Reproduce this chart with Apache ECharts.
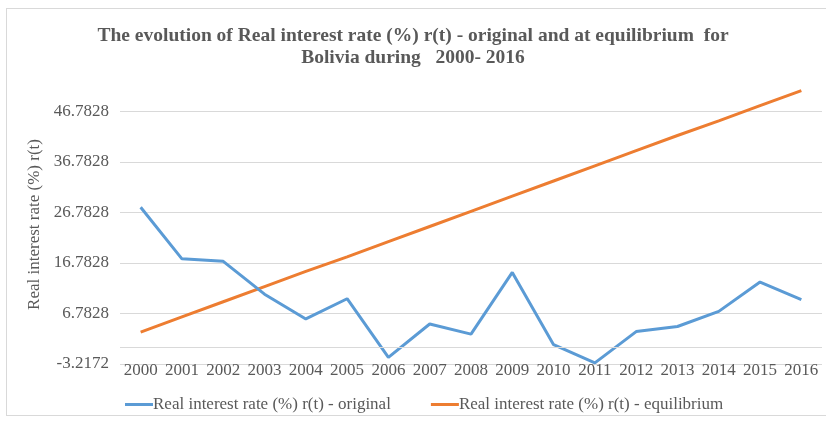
<!DOCTYPE html>
<html>
<head>
<meta charset="utf-8">
<script src="https://cdn.jsdelivr.net/npm/echarts@6/dist/echarts.min.js"></script>
<style>
  html, body { margin: 0; padding: 0; background: #fff; }
  #frame { position: absolute; left: 6px; top: 8px; width: 830px; height: 408px; border: 1px solid #d9d9d9; box-sizing: border-box; }
  #chart { position: absolute; left: 0; top: 0; width: 826px; height: 421px; }
</style>
</head>
<body>
<div id="frame"></div>
<div id="chart"></div>
<script>
const years = ['2000', '2001', '2002', '2003', '2004', '2005', '2006', '2007', '2008',
  '2009', '2010', '2011', '2012', '2013', '2014', '2015', '2016'];
const original = [27.8, 17.6, 17.1, 10.6, 5.7, 9.7, -1.9, 4.7, 2.7,
  14.9, 0.6, -3.0, 3.2, 4.2, 7.2, 13.0, 9.5];
const equilibrium = [3.1, 6.1, 9.1, 12.1, 15.1, 18.0, 21.0, 24.0, 27.0,
  30.0, 33.0, 36.0, 39.0, 42.0, 44.9, 47.9, 50.9];
const yMin = -3.2172;
const yMax = 52;
const yStep = 10;

const serif = '"Liberation Serif", "DejaVu Serif", serif';
const grey = '#595959';
const gridGrey = '#d9d9d9';

const chart = echarts.init(document.getElementById('chart'));
chart.setOption({
  animation: false,
  textStyle: { fontFamily: serif },
  title: {
    text: 'The evolution of Real interest rate (%) r(t) - original and at equilibrium  for\nBolivia during   2000- 2016',
    left: 'center',
    top: 20,
    textStyle: { fontFamily: serif, fontSize: 19.5, fontWeight: 'bold', color: grey, lineHeight: 22 }
  },
  grid: { left: 120, right: 4, top: 85, bottom: 57 },
  legend: {
    left: 120,
    top: 391,
    itemWidth: 28,
    itemHeight: 3,
    itemGap: 40,
    icon: 'rect',
    textStyle: { fontFamily: serif, fontSize: 17, color: grey, padding: [0, 0, 0, -5] },
    data: ['Real interest rate (%) r(t) - original', 'Real interest rate (%) r(t) - equilibrium']
  },
  xAxis: {
    type: 'category',
    data: years,
    // the category axis crosses the value axis at 0, labels stay low
    axisLine: { show: false },
    axisTick: { show: false },
    axisLabel: { interval: 0, margin: -2, fontSize: 17, color: grey, fontFamily: serif }
  },
  yAxis: {
    type: 'value',
    min: yMin,
    max: yMax,
    interval: yStep,
    name: 'Real interest rate (%) r(t)',
    nameLocation: 'middle',
    nameGap: 70,
    nameTextStyle: { fontFamily: serif, fontSize: 17, color: grey },
    axisLine: { show: false },
    axisTick: { show: false },
    axisLabel: {
      showMaxLabel: false,
      fontSize: 17,
      color: grey,
      fontFamily: serif,
      margin: 11,
      formatter: v => (yMin + Math.round((v - yMin) / yStep) * yStep).toFixed(4)
    },
    splitLine: { showMinLine: true, showMaxLine: false, lineStyle: { color: gridGrey, width: 1 } }
  },
  series: [
    {
      name: 'Real interest rate (%) r(t) - original',
      type: 'line',
      data: original,
      symbol: 'none',
      lineStyle: { color: '#5b9bd5', width: 3 },
      itemStyle: { color: '#5b9bd5' },
      markLine: {
        silent: true,
        symbol: ['none', 'none'],
        label: { show: false },
        emphasis: { disabled: true },
        lineStyle: { color: gridGrey, type: 'solid', width: 1 },
        data: [{ yAxis: 0 }, { yAxis: yMin }]
      },
      z: 3
    },
    {
      name: 'Real interest rate (%) r(t) - equilibrium',
      type: 'line',
      data: equilibrium,
      symbol: 'none',
      lineStyle: { color: '#ed7d31', width: 3 },
      itemStyle: { color: '#ed7d31' },
      z: 2
    }
  ]
});
</script>
</body>
</html>
